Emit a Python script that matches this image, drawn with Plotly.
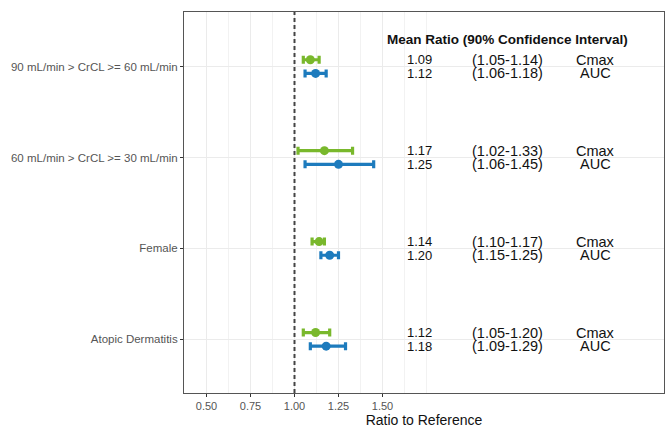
import plotly.graph_objects as go

# Subgroups (top to bottom) and their positions on the y axis
groups = ["90 mL/min > CrCL >= 60 mL/min", "60 mL/min > CrCL >= 30 mL/min",
          "Female", "Atopic Dermatitis"]
group_pos = [4, 3, 2, 1]

# Geometric mean ratios with 90% CI
cmax_mean = [1.09, 1.17, 1.14, 1.12]
cmax_lo = [1.05, 1.02, 1.10, 1.05]
cmax_hi = [1.14, 1.33, 1.17, 1.20]

auc_mean = [1.12, 1.25, 1.20, 1.18]
auc_lo = [1.06, 1.06, 1.15, 1.09]
auc_hi = [1.18, 1.45, 1.25, 1.29]

x_ticks = [0.50, 0.75, 1.00, 1.25, 1.50]
x_minor = [0.625, 0.875, 1.125, 1.375, 1.625, 1.75]

dodge = 0.075
text_x_mean, text_x_ci, text_x_name = 1.71, 2.21, 2.71

GREEN = "#79b82c"
BLUE = "#1d7bbd"
FONT = "Liberation Sans, Arial, sans-serif"

fig = go.Figure()


def add_series(means, lo, hi, offset, color, name):
    ys = [p + offset for p in group_pos]
    fig.add_trace(go.Scatter(
        x=means, y=ys, mode="markers", name=name,
        marker=dict(color=color, size=9),
        error_x=dict(type="data", symmetric=False,
                     array=[h - m for h, m in zip(hi, means)],
                     arrayminus=[m - l for m, l in zip(means, lo)],
                     color=color, thickness=3.2, width=4),
        showlegend=False,
    ))


add_series(cmax_mean, cmax_lo, cmax_hi, dodge, GREEN, "Cmax")
add_series(auc_mean, auc_lo, auc_hi, -dodge, BLUE, "AUC")

# Reference line at ratio 1
fig.add_vline(x=1.0, line=dict(color="#444", width=2, dash="4px,3px"))

# Text table on the right of the panel
for pos, cm, cl, ch, am, al, ah in zip(group_pos, cmax_mean, cmax_lo, cmax_hi,
                                      auc_mean, auc_lo, auc_hi):
    for yy, m, l, h, nm in [(pos + dodge, cm, cl, ch, "Cmax"),
                            (pos - dodge, am, al, ah, "AUC")]:
        fig.add_annotation(x=text_x_mean, y=yy, text=f"{m:.2f}", showarrow=False,
                           font=dict(family=FONT, size=13, color="#111"))
        fig.add_annotation(x=text_x_ci, y=yy, text=f"({l:.2f}-{h:.2f})", showarrow=False,
                           font=dict(family=FONT, size=14.5, color="#111"))
        fig.add_annotation(x=text_x_name, y=yy, text=nm, showarrow=False,
                           font=dict(family=FONT, size=14.5, color="#111"))

fig.add_annotation(x=text_x_ci, y=4.3, text="<b>Mean Ratio (90% Confidence Interval)</b>",
                   showarrow=False, font=dict(family=FONT, size=13.5, color="#111"))

fig.update_layout(
    width=667, height=428,
    margin=dict(l=184, r=2, t=12, b=33),
    paper_bgcolor="white", plot_bgcolor="white",
    font=dict(family=FONT),
    xaxis=dict(
        range=[0.372, 3.1], tickvals=x_ticks, ticktext=[f"{v:.2f}" for v in x_ticks],
        showgrid=True, gridcolor="#ebebeb", gridwidth=1,
        minor=dict(tickvals=x_minor, showgrid=True, gridcolor="#f2f2f2", gridwidth=1),
        ticks="outside", ticklen=3, tickcolor="#333", tickwidth=1,
        tickfont=dict(size=11, color="#555"),
        showline=True, linecolor="#555", linewidth=1, mirror=True,
        zeroline=False,
        title=dict(text="Ratio to Reference", font=dict(size=14, color="#111"), standoff=4),
    ),
    yaxis=dict(
        range=[0.41, 4.6], tickvals=group_pos, ticktext=groups,
        showgrid=True, gridcolor="#ebebeb", gridwidth=1,
        ticks="outside", ticklen=3, tickcolor="#333", tickwidth=1,
        tickfont=dict(size=11.5, color="#555"),
        showline=True, linecolor="#555", linewidth=1, mirror=True,
        zeroline=False,
    ),
)

fig.write_html("out.html")
